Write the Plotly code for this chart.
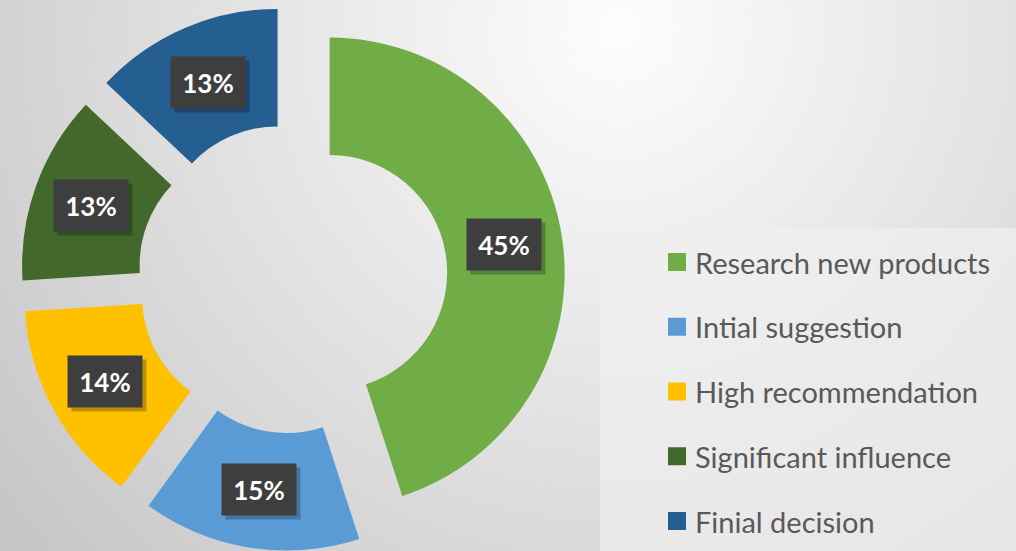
import math
import base64
import plotly.graph_objects as go

# ---- data ----
labels = ["Research new products", "Intial suggestion", "High recommendation",
          "Significant influence", "Finial decision"]
values = [45, 15, 14, 13, 13]
colors = ["#70AD47", "#5B9BD5", "#FFC000", "#43682B", "#255E91"]

# ---- layout constants ----
W, H = 1016, 551
PULL = 0.16
HOLE = 0.5
DOM_X = [0.0182, 0.5576]
DOM_Y = [0.0, 0.9895]

# background radial gradient (decoration)
svg = f'''<svg xmlns="http://www.w3.org/2000/svg" width="{W}" height="{H}" viewBox="0 0 {W} {H}" preserveAspectRatio="none">
<defs><radialGradient id="g" gradientUnits="userSpaceOnUse" cx="620" cy="30" r="800">
<stop offset="0" stop-color="#fdfdfd"/>
<stop offset="0.5" stop-color="#e2e2e2"/>
<stop offset="1" stop-color="#c5c5c5"/>
</radialGradient></defs>
<rect width="{W}" height="{H}" fill="url(#g)"/>
</svg>'''
bg_src = "data:image/svg+xml;base64," + base64.b64encode(svg.encode()).decode()

fig = go.Figure()
fig.add_trace(go.Pie(
    labels=labels, values=values, sort=False, direction="clockwise", rotation=0,
    hole=HOLE, pull=[PULL] * len(values),
    marker=dict(colors=colors, line=dict(width=0)),
    textinfo="none", showlegend=False,
    domain=dict(x=DOM_X, y=DOM_Y),
))

# geometry of the pie as plotly lays it out (for label boxes)
box_w = W * (DOM_X[1] - DOM_X[0])
box_h = H * (DOM_Y[1] - DOM_Y[0])
R = min(box_w, box_h) / 2 / (1 + PULL)
cx = W * (DOM_X[0] + DOM_X[1]) / 2
cy = H * (1 - DOM_Y[0]) - box_h / 2
total = sum(values)
r_mid = R * (1 + HOLE) / 2

annotations = []
cum = 0
for v in values:
    frac_mid = (cum + v / 2) / total
    cum += v
    ang = 2 * math.pi * frac_mid
    dx, dy = math.sin(ang), -math.cos(ang)
    px = cx + dx * R * PULL + dx * r_mid
    py = cy + dy * R * PULL + dy * r_mid
    pct = f"{round(100 * v / total)}%"
    common = dict(x=px / W, y=1 - py / H, xref="paper", yref="paper",
                  xanchor="center", yanchor="middle", showarrow=False,
                  width=72, height=49)
    # shadow
    annotations.append(dict(common, text=" ", bgcolor="rgba(0,0,0,0.25)",
                            xshift=4, yshift=-4, font=dict(size=22)))
    annotations.append(dict(common, text=f"<b>{pct}</b>", bgcolor="#3e3e3e",
                            font=dict(family="Lato", size=26, color="white")))

# custom legend
shapes = [dict(type="rect", xref="paper", yref="paper", x0=600 / W, x1=1, y0=0,
               y1=1 - 228 / H, fillcolor="rgba(240,240,240,0.7)", line=dict(width=0),
               layer="below")]
row_y0, row_dy = 262, 64.75
for i, (lab, col) in enumerate(zip(labels, colors)):
    yc = row_y0 + i * row_dy
    shapes.append(dict(type="rect", xref="paper", yref="paper",
                       x0=668 / W, x1=686 / W, y0=1 - (yc + 9) / H, y1=1 - (yc - 9) / H,
                       fillcolor=col, line=dict(width=0)))
    annotations.append(dict(x=693 / W, y=1 - yc / H, xref="paper", yref="paper",
                            text=lab, showarrow=False, xanchor="left", yanchor="middle",
                            font=dict(family="Lato", size=29, color="#595959")))

fig.update_layout(
    width=W, height=H, margin=dict(l=0, r=0, t=0, b=0),
    paper_bgcolor="#dcdcdc", plot_bgcolor="rgba(0,0,0,0)",
    images=[dict(source=bg_src, xref="paper", yref="paper", x=0, y=1, sizex=1, sizey=1,
                 sizing="stretch", layer="below", xanchor="left", yanchor="top")],
    shapes=shapes, annotations=annotations,
)

fig.write_html("out.html", config={"displayModeBar": False},
               post_script="document.body.style.margin='0';document.body.style.overflow='hidden';")
